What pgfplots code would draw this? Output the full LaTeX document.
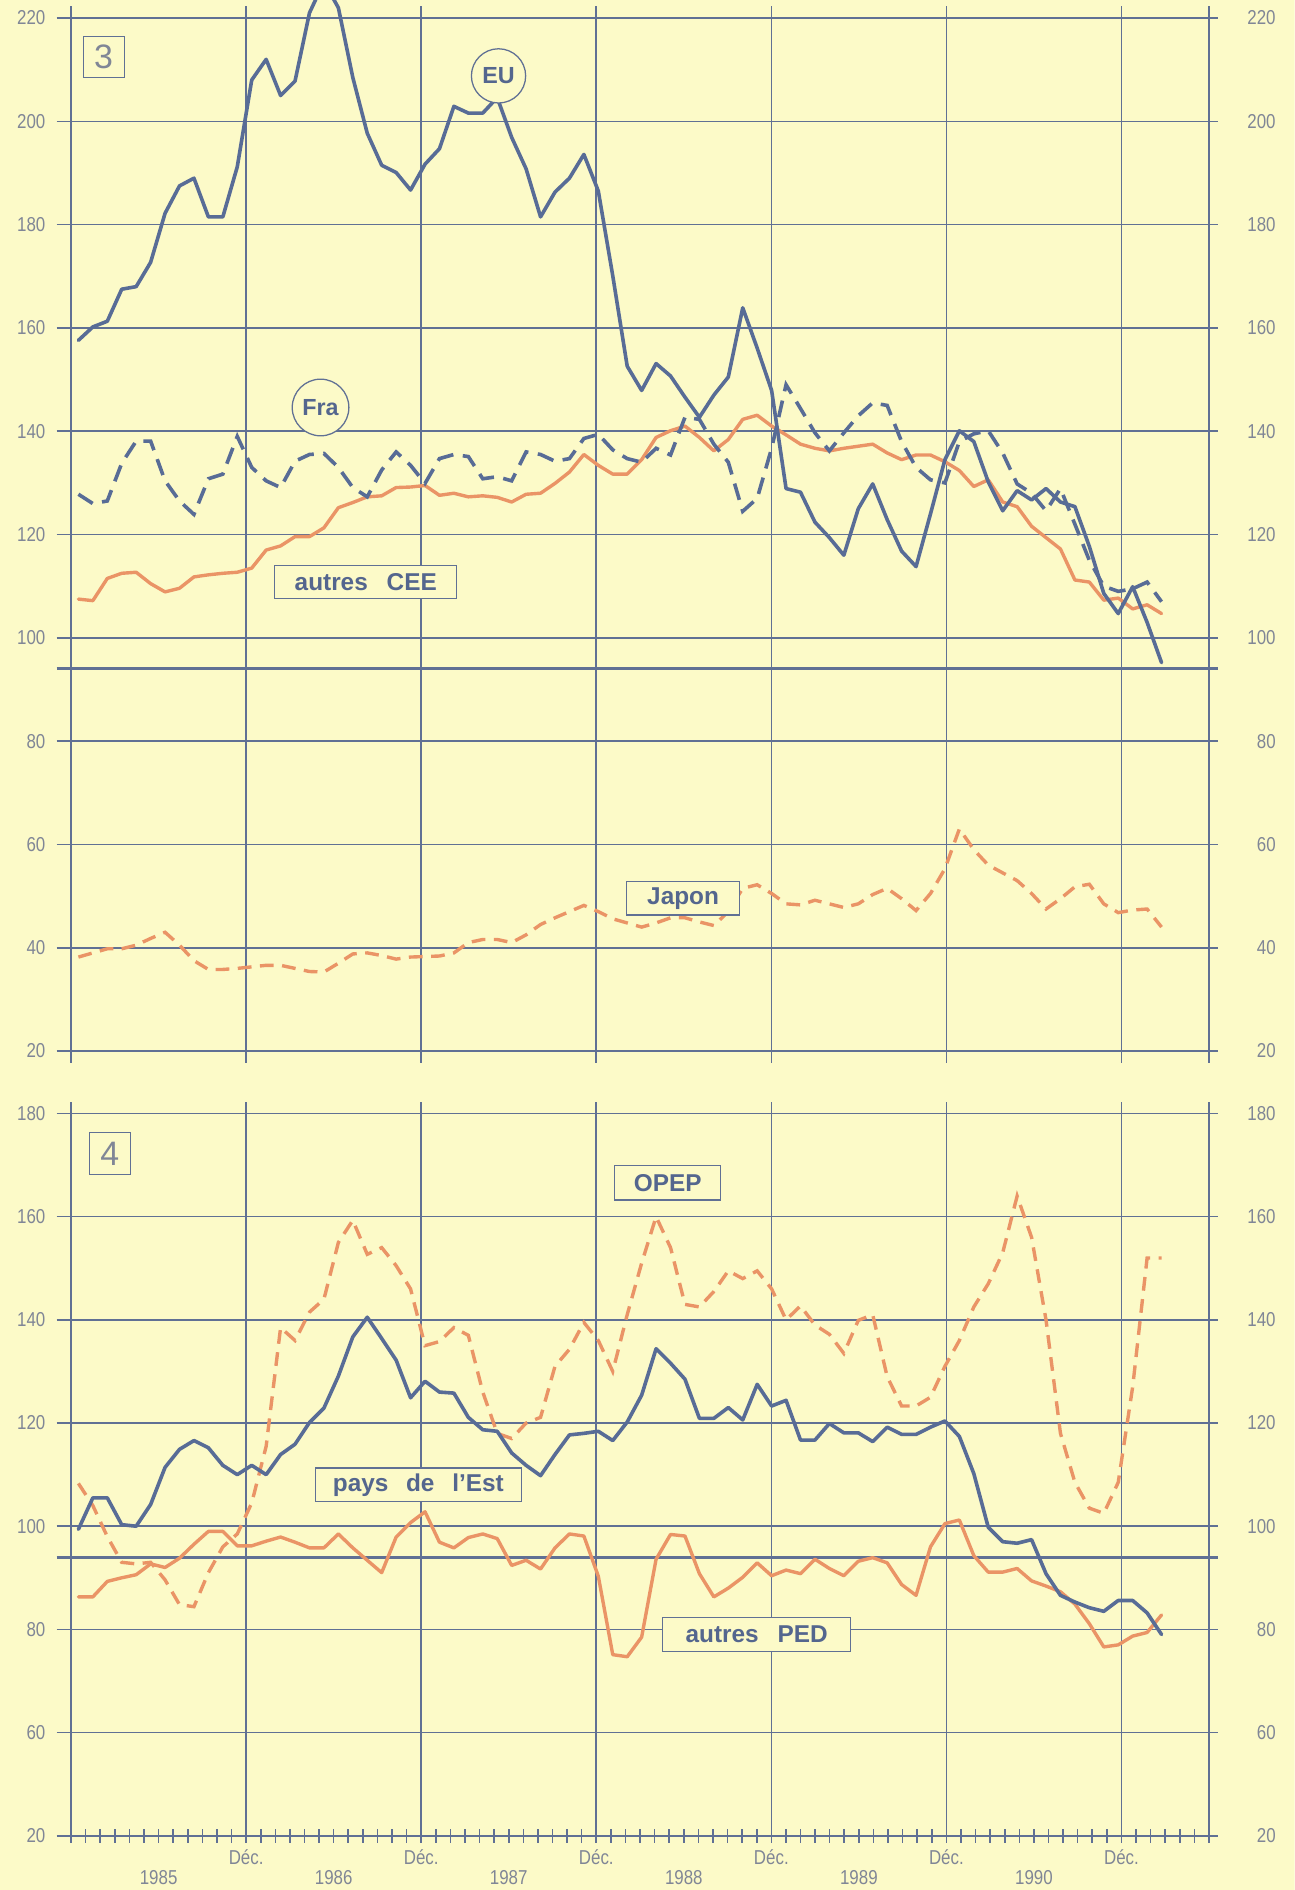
\documentclass[border=0pt]{standalone}
\usepackage{fontspec}
\setmainfont{Liberation Sans}
\newfontfamily\narrowfont[FakeStretch=0.84]{Liberation Sans}
\usepackage{pgfplots}
\usepackage{pgfplotstable}
\pgfplotsset{compat=1.18}

\definecolor{bg}{RGB}{252,250,200}
\definecolor{gridc}{RGB}{96,112,148}
\definecolor{blueline}{RGB}{88,108,150}
\definecolor{orangeline}{RGB}{234,148,102}
\definecolor{ticktxt}{RGB}{128,134,150}
\definecolor{labtxt}{RGB}{84,102,142}

% monthly index, Jan 1985 = first row; x in months from Dec 1984
\pgfplotstableread{
x     EU    Fra   CEE   Jap  Est   OPEP  PED
0.50  157.6 127.8 107.5 38.2 99.4  108.3 86.3
1.49  160.2 126.0 107.2 39.0 105.5 104.0 86.3
2.48  161.3 126.5 111.5 39.8 105.5 98.0  89.3
3.47  167.5 133.8 112.5 39.8 100.3 93.0  90.0
4.46  168.0 138.1 112.7 40.5 100.0 92.7  90.6
5.45  172.7 138.1 110.5 41.8 104.2 93.0  92.7
6.44  182.2 130.4 108.9 43.0 111.4 89.6  92.0
7.43  187.5 126.5 109.6 40.5 114.9 84.8  93.8
8.42  189.0 123.9 111.8 37.5 116.6 84.4  96.5
9.41  181.5 130.8 112.2 35.8 115.2 91.0  99.0
10.40 181.5 131.7 112.5 35.8 111.8 96.0  99.0
11.39 191.2 139.0 112.7 36.0 110.0 98.5  96.2
12.38 208.0 133.0 113.5 36.3 111.8 104.5 96.2
13.37 212.0 130.4 117.0 36.6 110.0 115.5 97.1
14.36 205.0 129.1 117.8 36.6 113.9 138.5 97.9
15.35 207.8 134.2 119.6 36.0 115.9 136.0 96.9
16.34 221.0 135.5 119.6 35.4 120.1 141.5 95.8
17.33 227.0 135.7 121.3 35.3 122.9 144.0 95.8
18.32 222.0 133.0 125.2 37.0 129.1 155.0 98.5
19.31 208.5 129.1 126.2 38.8 136.7 159.3 95.8
20.30 197.7 127.3 127.3 39.0 140.5 152.7 93.4
21.29 191.5 132.5 127.5 38.5 136.4 154.0 91.0
22.28 190.1 136.0 129.1 37.8 132.2 150.5 97.9
23.27 186.7 133.4 129.2 38.2 124.9 146.0 100.7
24.26 191.7 129.9 129.5 38.3 128.1 135.0 102.8
25.25 194.7 134.7 127.6 38.4 126.0 135.8 96.9
26.24 202.9 135.5 128.0 39.0 125.8 138.5 95.8
27.23 201.6 135.1 127.3 41.0 121.1 137.0 97.8
28.22 201.6 130.8 127.5 41.6 118.7 126.0 98.5
29.21 204.6 131.2 127.2 41.6 118.4 118.0 97.6
30.20 196.9 130.4 126.3 41.0 114.2 117.0 92.4
31.19 190.8 136.0 127.8 42.5 111.8 120.0 93.4
32.18 181.5 135.5 128.0 44.5 109.8 121.1 91.7
33.17 186.3 134.2 129.9 45.8 113.9 131.0 95.8
34.16 189.0 134.7 132.1 47.0 117.7 134.3 98.5
35.15 193.6 138.6 135.5 48.2 118.0 139.5 98.1
36.14 186.5 139.4 133.4 47.0 118.4 136.0 90.3
37.13 170.1 136.4 131.7 45.6 116.6 130.0 75.1
38.12 152.6 134.7 131.7 44.8 120.2 141.0 74.7
39.11 147.9 134.0 134.5 44.0 125.4 151.0 78.5
40.10 153.1 136.7 138.8 44.8 134.4 160.0 93.6
41.09 150.7 135.4 140.1 45.8 131.6 154.0 98.4
42.08 146.6 142.7 141.0 45.8 128.5 143.0 98.1
43.07 142.7 142.3 138.8 45.0 120.9 142.5 90.8
44.06 147.0 137.5 136.2 44.3 120.9 145.5 86.3
45.05 150.5 134.0 138.4 47.0 123.0 149.5 88.0
46.04 163.9 124.5 142.3 51.5 120.6 148.0 90.1
47.03 156.1 127.0 143.1 52.2 127.5 149.5 92.9
48.02 147.9 136.7 141.0 50.5 123.3 146.0 90.4
49.01 128.9 149.0 139.3 48.5 124.4 140.0 91.5
50.00 128.2 144.4 137.5 48.3 116.7 142.7 90.8
50.99 122.4 139.7 136.7 49.2 116.7 139.0 93.6
51.98 119.4 136.2 136.2 48.5 119.9 137.2 91.8
52.97 116.0 139.7 136.7 47.8 118.1 133.5 90.4
53.96 125.0 143.0 137.1 48.5 118.1 139.9 93.2
54.95 129.8 145.5 137.5 50.3 116.4 141.0 93.9
55.94 122.9 145.0 135.8 51.5 119.2 129.0 92.9
56.93 116.8 138.0 134.5 49.5 117.8 123.3 88.7
57.92 113.8 133.0 135.4 47.2 117.8 123.3 86.6
58.91 124.0 130.6 135.4 50.5 119.2 125.0 96.0
59.90 134.5 130.0 134.1 55.3 120.4 131.0 100.5
60.89 140.1 138.0 132.4 63.0 117.4 136.0 101.2
61.88 138.0 139.5 129.3 59.0 110.2 142.5 94.3
62.87 130.2 140.1 130.6 56.0 99.8  147.0 91.1
63.86 124.6 135.8 126.3 54.5 97.0  153.0 91.1
64.85 128.5 129.8 125.4 53.0 96.7  164.0 91.8
65.84 126.7 128.0 121.6 50.5 97.4  156.0 89.4
66.83 128.9 124.6 119.4 47.5 90.8  140.0 88.4
67.82 126.3 128.9 117.2 49.5 86.6  118.0 87.3
68.81 125.4 122.0 111.2 51.8 85.3  108.5 84.9
69.80 117.7 115.0 110.8 52.3 84.2  103.5 81.1
70.79 108.6 110.0 107.3 48.5 83.5  102.5 76.6
71.78 104.7 109.0 107.7 46.8 85.6  108.5 77.0
72.77 109.9 109.5 105.6 47.3 85.6  127.0 78.7
73.76 103.0 110.8 106.4 47.5 83.2  152.0 79.4
74.75 95.2  107.0 104.7 44.0 79.0  152.0 82.8
}\data

\pgfplotsset{
  panel/.style={scale only axis, width=18.88cm, hide axis, clip=false,
    xmin=0, xmax=78, anchor=south west},
}
\tikzset{
  gl/.style={draw=gridc, line width=0.75pt},
  base/.style={draw=gridc, line width=1.4pt},
  tl/.style={font=\narrowfont\fontsize{9.5}{10}\selectfont, text=ticktxt, anchor=east, inner sep=0pt},
  xl/.style={font=\narrowfont\fontsize{9.5}{10}\selectfont, text=ticktxt, inner sep=0pt},
  box/.style={draw=gridc, line width=0.6pt, fill=bg, text=labtxt,
    font=\bfseries\fontsize{11.5}{12}\selectfont, inner sep=0pt, align=center},
  numbox/.style={draw=gridc, line width=0.5pt, fill=bg, text=ticktxt,
    font=\fontsize{16}{16}\selectfont, inner sep=0pt, minimum size=0.68cm},
  ring/.style={circle, draw=gridc, line width=0.6pt, fill=bg, text=labtxt,
    font=\bfseries\fontsize{11}{11}\selectfont, inner sep=0pt},
  bl/.style={blueline, line width=1.7pt, line join=round, line cap=round},
  bldash/.style={blueline, line width=1.7pt, dash pattern=on 8pt off 4.5pt},
  orl/.style={orangeline, line width=1.6pt, line join=round, line cap=round},
  ordash/.style={orangeline, line width=1.6pt, dash pattern=on 6.5pt off 4pt},
}

\begin{document}
\begin{tikzpicture}
\clip (0,0) rectangle (21.48,31.36);
\fill[bg] (0,0) rectangle (21.48,31.36);

% panel 3
\begin{axis}[panel, at={(1.18cm,13.92cm)}, height=17.14cm, ymin=20, ymax=220]
  \pgfplotsinvokeforeach{0,12,...,72,78}{
    \draw[gl] (axis cs:#1,17.7) -- (axis cs:#1,222.3);
  }
  \pgfplotsinvokeforeach{20,40,...,220}{
    \draw[gl] (axis cs:-1,#1) -- (axis cs:78.65,#1);
    \node[tl] at (axis cs:-1.74,#1) {#1};
    \node[tl] at (axis cs:82.6,#1) {#1};
  }
  \draw[base] (axis cs:-1,94) -- (axis cs:78.65,94);

  \addplot[orl] table[x=x, y=CEE] {\data};
  \addplot[ordash] table[x=x, y=Jap] {\data};
  \addplot[bldash] table[x=x, y=Fra] {\data};
  \addplot[bl] table[x=x, y=EU] {\data};

  \node[numbox] at (axis cs:2.23,212.4) {3};
  \node[ring, minimum size=0.9cm] at (axis cs:29.3,208.8) {EU};
  \node[ring, minimum size=0.94cm] at (axis cs:17.1,144.6) {Fra};
  \node[box, minimum width=3.02cm, minimum height=0.54cm] at (axis cs:20.2,110.8) {autres\hspace{0.5em} CEE};
  \node[box, minimum width=1.88cm, minimum height=0.56cm] at (axis cs:41.95,49.6) {Japon};
\end{axis}

% panel 4 (bottom line labelled 20, axis broken below 60)
\begin{axis}[panel, at={(1.18cm,0.90cm)}, height=11.984cm, ymin=40, ymax=180]
  \pgfplotsinvokeforeach{0,12,...,72,78}{
    \draw[gl] (axis cs:#1,38.6) -- (axis cs:#1,182.3);
  }
  \pgfplotsinvokeforeach{1,...,77}{
    \draw[gl] (axis cs:#1,38.6) -- (axis cs:#1,41.4);
  }
  \pgfplotsinvokeforeach{60,80,...,180}{
    \draw[gl] (axis cs:-1,#1) -- (axis cs:78.65,#1);
    \node[tl] at (axis cs:-1.74,#1) {#1};
    \node[tl] at (axis cs:82.6,#1) {#1};
  }
  \draw[draw=gridc, line width=1.1pt] (axis cs:-1,40) -- (axis cs:78.65,40);
  \node[tl] at (axis cs:-1.74,40) {20};
  \node[tl] at (axis cs:82.6,40) {20};
  \draw[base] (axis cs:-1,94) -- (axis cs:78.65,94);

  \addplot[orl] table[x=x, y=PED] {\data};
  \addplot[ordash] table[x=x, y=OPEP] {\data};
  \addplot[bl] table[x=x, y=Est] {\data};

  \pgfplotsinvokeforeach{12,24,...,72}{
    \node[xl] at (axis cs:#1,35.8) {Déc.};
  }
  \node[xl] at (axis cs:6,31.8) {1985};
  \node[xl] at (axis cs:18,31.8) {1986};
  \node[xl] at (axis cs:30,31.8) {1987};
  \node[xl] at (axis cs:42,31.8) {1988};
  \node[xl] at (axis cs:54,31.8) {1989};
  \node[xl] at (axis cs:66,31.8) {1990};

  \node[numbox, minimum height=0.7cm] at (axis cs:2.66,172.2) {4};
  \node[box, minimum width=1.76cm, minimum height=0.58cm] at (axis cs:40.9,166.6) {OPEP};
  \node[box, minimum width=3.42cm, minimum height=0.56cm] at (axis cs:23.8,108.0) {pays\hspace{0.45em} de\hspace{0.45em} l’Est};
  \node[box, minimum width=3.12cm, minimum height=0.56cm] at (axis cs:47.0,79.0) {autres\hspace{0.5em} PED};
\end{axis}
\end{tikzpicture}
\end{document}
